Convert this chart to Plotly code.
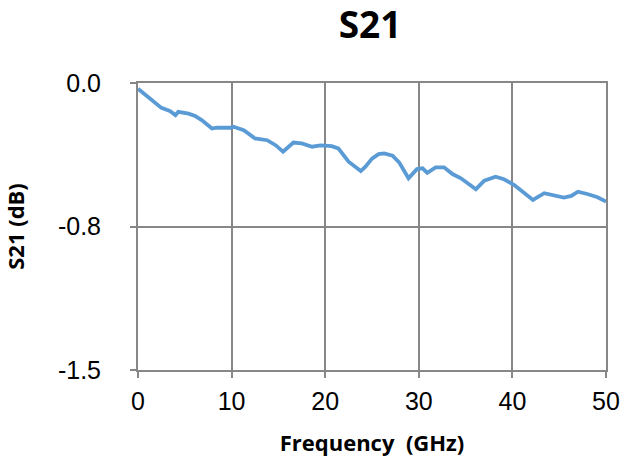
import plotly.graph_objects as go

freq_ghz = [0.0, 0.2, 1.3, 2.0, 2.5, 3.4, 4.0, 4.3, 5.4, 6.1, 6.8, 7.9, 8.4, 9.85, 10.2,
            11.3, 12.5, 13.8, 14.7, 15.5, 16.6, 17.5, 18.6, 19.5, 20.7, 21.4, 22.0,
            22.5, 23.8, 24.3, 25.0, 25.7, 26.3, 27.2, 27.9, 28.9, 29.8, 30.4, 30.9,
            31.8, 32.7, 33.6, 34.5, 35.2, 36.1, 37.0, 38.2, 39.1, 40.2, 41.3, 42.2,
            43.4, 44.3, 45.5, 46.3, 47.0, 48.0, 49.1, 50.0]
s21_db = [-0.03, -0.038, -0.082, -0.104, -0.130, -0.146, -0.168, -0.151, -0.160, -0.172,
          -0.194, -0.238, -0.233, -0.234, -0.229, -0.247, -0.290, -0.299, -0.325,
          -0.359, -0.311, -0.316, -0.333, -0.326, -0.330, -0.342, -0.377, -0.411,
          -0.460, -0.437, -0.395, -0.372, -0.368, -0.380, -0.415, -0.498, -0.450,
          -0.446, -0.469, -0.441, -0.441, -0.476, -0.498, -0.524, -0.555, -0.510,
          -0.490, -0.503, -0.533, -0.576, -0.611, -0.576, -0.585, -0.599, -0.590,
          -0.568, -0.580, -0.597, -0.620]

y_tick_vals = [0.0, -0.75, -1.5]
y_tick_text = ["0.0", "-0.8", "-1.5"]
x_tick_vals = [0, 10, 20, 30, 40, 50]

grid = "#878787"

fig = go.Figure(go.Scatter(x=freq_ghz, y=s21_db, mode="lines",
                           line=dict(color="#5B9BD5", width=3.8), showlegend=False))

fig.update_layout(
    width=623, height=462,
    paper_bgcolor="white", plot_bgcolor="white",
    margin=dict(l=138, r=17, t=83, b=92, autoexpand=False),
    title=dict(text="<b>S21</b>", x=0.594, xref="container", xanchor="center",
               y=0.945, yref="container", yanchor="middle",
               font=dict(family="Open Sans", size=37, color="black")),
    font=dict(family="Liberation Sans", color="black"),
)

fig.update_xaxes(range=[0, 50], tickvals=x_tick_vals, tickfont=dict(size=25),
                 showgrid=True, gridcolor=grid, gridwidth=2,
                 showline=True, linecolor=grid, linewidth=2, mirror=True,
                 ticks="outside", ticklen=6, tickcolor=grid, tickwidth=2,
                 ticklabelstandoff=2, automargin=False,
                 zeroline=False,
                 title=dict(text="<b>Frequency  (GHz)</b>", standoff=22,
                            font=dict(family="Open Sans", size=22)))
fig.update_yaxes(range=[-1.5, 0.0], tickvals=y_tick_vals, ticktext=y_tick_text,
                 tickfont=dict(size=25),
                 showgrid=True, gridcolor=grid, gridwidth=2,
                 showline=True, linecolor=grid, linewidth=2, mirror=True,
                 ticks="outside", ticklen=6, tickcolor=grid, tickwidth=2,
                 ticklabelstandoff=24, automargin=True,
                 zeroline=False,
                 title=dict(text="<b>S21 (dB)</b>", standoff=56,
                            font=dict(family="Open Sans", size=22)))

fig.write_html("out.html", config={"displayModeBar": False},
               post_script="document.body.style.margin='0';document.body.style.overflow='hidden';")
